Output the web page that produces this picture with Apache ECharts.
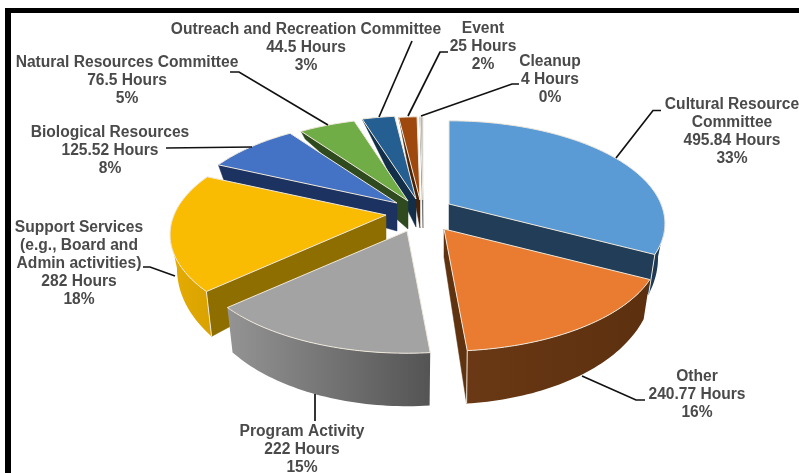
<!DOCTYPE html>
<html>
<head>
<meta charset="utf-8">
<style>html,body{margin:0;padding:0;background:#fff}#c{width:799px;height:473px}</style>
<script src="https://cdn.jsdelivr.net/npm/echarts@6/dist/echarts.min.js"></script>
</head>
<body>
<div id="c"></div>
<script>
// ---- data, clockwise from 12 o'clock ----
const categories = ['Cultural Resource\nCommittee','Other','Program Activity','Support Services\n(e.g., Board and\nAdmin activities)','Biological Resources','Natural Resources Committee','Outreach and Recreation Committee','Event','Cleanup'];
const hours = [495.84,240.77,222,282,125.52,76.5,44.5,25,4];
const hourLabels = ['495.84','240.77','222','282','125.52','76.5','44.5','25','4'];
const percents = ['33%','16%','15%','18%','8%','5%','3%','2%','0%'];

// ---- styles ----
const topColors  = ['#5B9BD5','#E97C30','#A3A3A3','#FABC02','#4472C4','#70AD47','#255E91','#9E480E','#B8B8B8'];
const cutColors  = ['#213D57','#5F3210','#6E6E6E','#8F6E00','#1C3260','#2E4A1E','#122E49','#4A2206','#555555'];
const wallColors = [['#1E3A54','#1E3A54'],['#6A3814','#5C300F'],['#949494','#545454'],['#E5AC02','#D9A200'],['#1C3260','#1C3260'],['#2E4A1E','#2E4A1E'],['#122E49','#122E49'],['#4A2206','#4A2206'],['#555555','#555555']];
// ---- layout of the exploded perspective pie ----
const slicePivots = [[449,204],[444,229],[407,231],[386,215],[397,203],[408,201],[416,199],[420,200],[423,200]];
const drawOrder = [8,7,6,5,4,3,0,2,1];
const Rx = 212, Ry = 99, K = 0.19;
const labelCentres = [[732,105],[697,377],[302,432],[79,228],[110,133],[127,63],[306,30],[483,29],[550,62]];
const leaderLines = [
  [[661,110.5],[653,110.5],[616,158]],
  [[645,400],[636,400],[582,376]],
  [[315,394],[315,421]],
  [[143,267],[150,267],[175,276]],
  [[166,148],[252,147]],
  [[230,72],[239,72],[328,125]],
  [[412,41],[379,117]],
  [[448,52],[440,52],[408,116]],
  [[519,84],[512,84],[421,116]]
];

const total = hours.reduce((a,b)=>a+b,0);
const startAngles = [];
hours.reduce((acc,h,i)=>{startAngles[i]=acc;return acc+h/total*360;},0);

function project(p,u,v){const s=1/(1-K*v);return [p[0]+Rx*u*s,p[1]+Ry*v*s];}
function drop(pt,u,v){return [pt[0]-7*u, pt[1]+Math.max(3,28+25*v)];}
function uv(a){const r=a*Math.PI/180;return [Math.sin(r),-Math.cos(r)];}
function isFront(a){return uv(a)[1]>0;}

function buildSlice(i){
  const p=slicePivots[i], a0=startAngles[i], a1=a0+hours[i]/total*360;
  const n=Math.max(2,Math.ceil((a1-a0)/1.2));
  const arc=[];
  for(let j=0;j<=n;j++){const a=a0+(a1-a0)*j/n,[u,v]=uv(a);const t=project(p,u,v);arc.push({t,b:drop(t,u,v)});}
  const tipB=drop(p,0,0);
  const kids=[];
  const first=arc[0], last=arc[arc.length-1];
  const edge='#EFE8DC';
  const cut=(A,B,AB,BB)=>({type:'polygon',shape:{points:[A,B,BB,AB]},style:{fill:cutColors[i],stroke:cutColors[i],lineWidth:0.5}});
  if(first.t[0]<p[0]-0.01) kids.push(cut(p,first.t,tipB,first.b));
  if(p[0]<last.t[0]-0.01) kids.push(cut(last.t,p,last.b,tipB));
  let run=[];
  const flush=()=>{
    if(run.length>1){
      const pts=run.map(r=>r.t).concat(run.map(r=>r.b).reverse());
      kids.push({type:'polygon',shape:{points:pts},style:{
        fill:new echarts.graphic.LinearGradient(0,0,1,0,[{offset:0,color:wallColors[i][0]},{offset:1,color:wallColors[i][1]}]),
        stroke:null}});
    }
    run=[];
  };
  for(let j=0;j<arc.length-1;j++){
    if(arc[j+1].t[0]<arc[j].t[0]){ if(!run.length) run.push(arc[j]); run.push(arc[j+1]); }
    else flush();
  }
  flush();
  if(first.t[0]<p[0]-0.01 && isFront(a0)) kids.push({type:'line',shape:{x1:first.t[0],y1:first.t[1],x2:first.b[0],y2:first.b[1]},style:{stroke:edge,lineWidth:1}});
  if(p[0]<last.t[0]-0.01 && isFront(a1)) kids.push({type:'line',shape:{x1:last.t[0],y1:last.t[1],x2:last.b[0],y2:last.b[1]},style:{stroke:edge,lineWidth:1}});
  const face=[p].concat(arc.map(r=>r.t));
  kids.push({type:'polygon',shape:{points:face},style:{fill:topColors[i],stroke:edge,lineWidth:1,lineJoin:'round'}});
  return {type:'group',children:kids};
}

const FONT='"Liberation Sans", Arial, sans-serif';
function buildLabel(i){
  const kids=[];
  kids.push({type:'polyline',shape:{points:leaderLines[i]},style:{stroke:'#111',lineWidth:1.7,fill:null}});
  const lines=categories[i].split('\n').concat([hourLabels[i]+' Hours',percents[i]]);
  const c=labelCentres[i];
  lines.forEach((t,j)=>{
    kids.push({type:'text',style:{text:t,x:c[0],y:c[1]+j*17.8,align:'center',verticalAlign:'middle',
      font:'bold 15.6px '+FONT,fill:'#4A4A4A'}});
  });
  return {type:'group',children:kids};
}

const chart=echarts.init(document.getElementById('c'),null,{renderer:'canvas',width:799,height:473});
chart.setOption({
  animation:false,
  backgroundColor:'#fff',
  graphic:[
    {type:'rect',shape:{x:5,y:8,width:794,height:5},style:{fill:'#000'},silent:true},
    {type:'rect',shape:{x:5,y:8,width:6,height:465},style:{fill:'#000'},silent:true}
  ],
  series:[
    {type:'custom',coordinateSystem:'none',silent:true,z:2,
     data:drawOrder.map(i=>[i,hours[i]]),
     encode:{value:1},
     renderItem:(params,api)=>buildSlice(api.value(0))},
    {type:'custom',coordinateSystem:'none',silent:true,z:3,
     data:categories.map((c,i)=>[i]),
     renderItem:(params,api)=>buildLabel(api.value(0))}
  ]
});
</script>
</body>
</html>
